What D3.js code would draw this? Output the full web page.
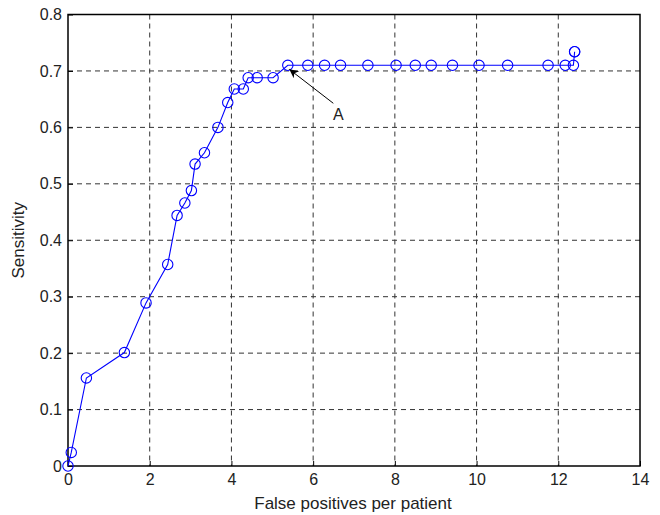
<!DOCTYPE html>
<html>
<head>
<meta charset="utf-8">
<script src="https://cdn.jsdelivr.net/npm/d3@7"></script>
<style>
  body { margin: 0; background: #fff; }
  text { font-family: "Liberation Sans", Arial, sans-serif; fill: #222; }
</style>
</head>
<body>
<div id="chart"></div>
<script>
// ROC-like curve: sensitivity vs false positives per patient

var fpRate = [0, 0.08, 0.45, 1.38, 1.91, 2.44, 2.67, 2.86, 3.02, 3.11, 3.34, 3.67, 3.91, 4.07, 4.29, 4.41, 4.63, 5.02, 5.38,
    5.87, 6.28, 6.67, 7.34, 8.03, 8.50, 8.89, 9.41, 10.06, 10.76, 11.75, 12.17, 12.37, 12.40, 12.40];
var sensitivity = [0, 0.024, 0.156, 0.201, 0.289, 0.357, 0.444, 0.466, 0.488, 0.535, 0.555, 0.600, 0.644, 0.668, 0.668, 0.688, 0.688, 0.688, 0.710,
    0.710, 0.710, 0.710, 0.710, 0.710, 0.710, 0.710, 0.710, 0.710, 0.710, 0.710, 0.710, 0.710, 0.734, 0.734];
var xTicks = [0, 2, 4, 6, 8, 10, 12, 14];
var yTicks = [0, 0.1, 0.2, 0.3, 0.4, 0.5, 0.6, 0.7, 0.8];
var note = {label: "A", x: 5.38, y: 0.710};

var width = 660, height = 515;
var margin = {left: 68, right: 20, top: 14.5, bottom: 49};
var w = width - margin.left - margin.right;
var h = height - margin.top - margin.bottom;

var svg = d3.select("#chart").append("svg")
    .attr("width", width)
    .attr("height", height);

var g = svg.append("g").attr("transform", "translate(" + margin.left + "," + margin.top + ")");

var x = d3.scaleLinear().domain([0, 14]).range([0, w]);
var y = d3.scaleLinear().domain([0, 0.8]).range([h, 0]);

// grid
g.append("g").selectAll("line").data(xTicks.slice(1, -1)).enter().append("line")
    .attr("x1", function(d){ return x(d); }).attr("x2", function(d){ return x(d); })
    .attr("y1", 0).attr("y2", h)
    .attr("stroke", "#333").attr("stroke-dasharray", "5,4").attr("stroke-width", 1);
g.append("g").selectAll("line").data(yTicks.slice(1, -1)).enter().append("line")
    .attr("y1", function(d){ return y(d); }).attr("y2", function(d){ return y(d); })
    .attr("x1", 0).attr("x2", w)
    .attr("stroke", "#333").attr("stroke-dasharray", "5,4").attr("stroke-width", 1);

// axes
var xAxis = g.append("g").attr("transform", "translate(0," + h + ")")
    .call(d3.axisBottom(x).tickValues(xTicks).tickSize(-5).tickPadding(7.5).tickFormat(d3.format("d")));
var yAxis = g.append("g")
    .call(d3.axisLeft(y).tickValues(yTicks).tickSize(-5).tickPadding(6).tickFormat(function(d){ return d === 0 ? "0" : d3.format(".1f")(d); }));
[xAxis, yAxis].forEach(function(a){
    a.select(".domain").remove();
    a.selectAll("text").style("font-size", "16px").attr("fill", "#222");
    a.selectAll("line").attr("stroke", "#000");
});

// box
g.append("rect").attr("width", w).attr("height", h)
    .attr("fill", "none").attr("stroke", "#000").attr("stroke-width", 1.5);

// data line and markers
var pts = fpRate.map(function(d, i){ return [d, sensitivity[i]]; });
g.append("path").datum(pts)
    .attr("fill", "none").attr("stroke", "#0000ff").attr("stroke-width", 1.1)
    .attr("d", d3.line().x(function(d){ return x(d[0]); }).y(function(d){ return y(d[1]); }));
g.append("g").selectAll("circle").data(pts).enter().append("circle")
    .attr("cx", function(d){ return x(d[0]); })
    .attr("cy", function(d){ return y(d[1]); })
    .attr("r", 5.2)
    .attr("fill", "none").attr("stroke", "#0000ff").attr("stroke-width", 1.1);

// annotation
svg.append("defs").append("marker")
    .attr("id", "arrow").attr("viewBox", "0 0 10 10").attr("refX", 10).attr("refY", 5)
    .attr("markerWidth", 12).attr("markerHeight", 9).attr("orient", "auto").attr("markerUnits", "userSpaceOnUse")
    .append("path").attr("d", "M0,0 L10,5 L0,10 L3,5 Z").attr("fill", "#000");
var ax = x(note.x) + 1.5, ay = y(note.y) + 4;
g.append("line")
    .attr("x1", ax + 44).attr("y1", ay + 34)
    .attr("x2", ax).attr("y2", ay)
    .attr("stroke", "#000").attr("stroke-width", 1)
    .attr("marker-end", "url(#arrow)");
g.append("text").attr("x", ax + 49).attr("y", ay + 51)
    .attr("text-anchor", "middle").style("font-size", "16px").text(note.label);

// labels
svg.append("text")
    .attr("x", margin.left + w / 2 - 1).attr("y", 509)
    .attr("text-anchor", "middle").style("font-size", "17px")
    .text("False positives per patient");
svg.append("text")
    .attr("transform", "translate(24," + (margin.top + h / 2) + ") rotate(-90)")
    .attr("text-anchor", "middle").style("font-size", "17px")
    .text("Sensitivity");
</script>
</body>
</html>
